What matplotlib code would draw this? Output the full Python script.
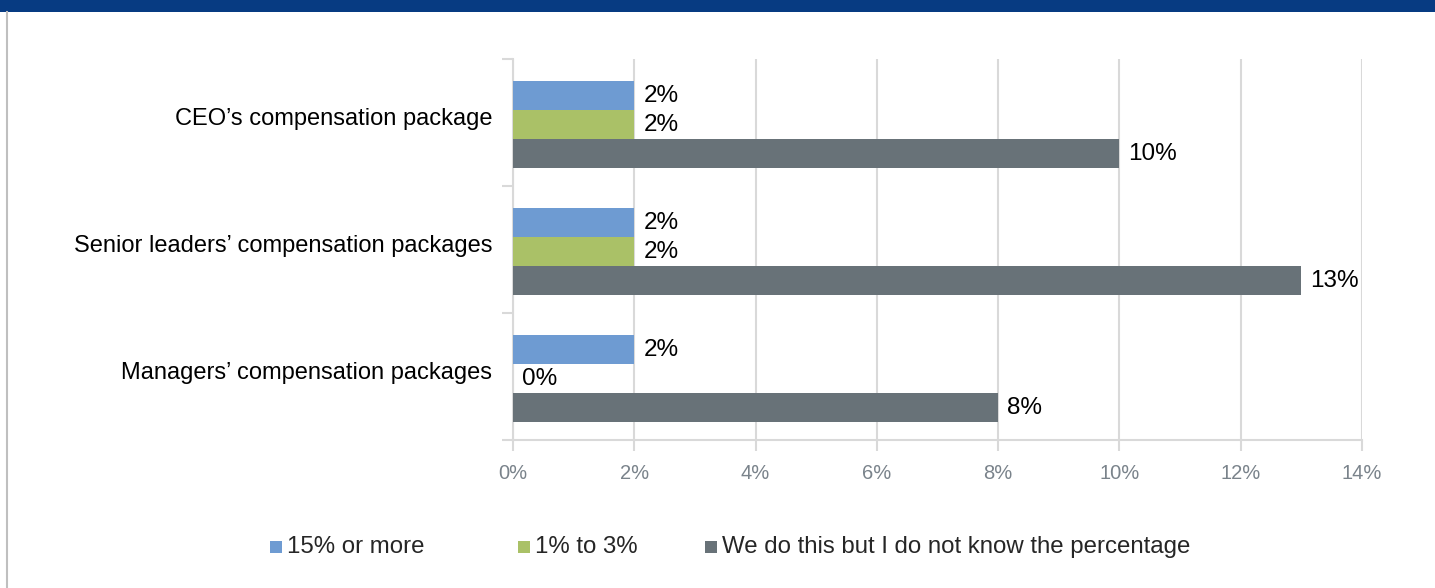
import matplotlib.pyplot as plt
from matplotlib.patches import Rectangle
import numpy as np

plt.rcParams['font.family'] = ['Liberation Sans', 'DejaVu Sans']

# 数据
categories = ["CEO\u2019s compensation package",
              "Senior leaders\u2019 compensation packages",
              "Managers\u2019 compensation packages"]
series_names = ["15% or more", "1% to 3%", "We do this but I do not know the percentage"]
high = [2, 2, 2]
low = [2, 2, 0]
unknown = [10, 13, 8]
colors = ['#6E9BD2', '#AAC167', '#687278']

fig = plt.figure(figsize=(14.35, 5.88), dpi=100)
ax = fig.add_axes([513 / 1435, 1 - 440 / 588, 849 / 1435, 381 / 588])

y = np.arange(len(categories))
h = 0.228
for i, (vals, c) in enumerate(zip([high, low, unknown], colors)):
    pos = y + (i - 1) * h + 0.015
    ax.barh(pos, vals, height=h, color=c, zorder=3)
    for p, v in zip(pos, vals):
        ax.text(v + 0.15, p + 0.005, f"{v}%", va='center', ha='left',
                fontsize=17.5, color='black')

ax.set_xlim(0, 14)
ax.set_ylim(2.5, -0.5)
ax.set_xticks(range(0, 15, 2))
ax.set_xticklabels([f"{t}%" for t in range(0, 15, 2)], fontsize=14.5, color='#7A838B')
ax.set_yticks(y - 0.05)
ax.set_yticklabels(categories, fontsize=17, color='black')
ax.set_yticks([-0.5, 0.5, 1.5, 2.5], minor=True)
ax.tick_params(axis='y', which='major', length=0, pad=15)
ax.tick_params(axis='y', which='minor', length=8, width=1.5, color='#D9D9D9')
ax.tick_params(axis='x', length=8, width=1.5, color='#D9D9D9', pad=9)
ax.grid(axis='x', color='#D9D9D9', linewidth=1.5, zorder=0)
for s in ['top', 'right']:
    ax.spines[s].set_visible(False)
for s in ['left', 'bottom']:
    ax.spines[s].set_color('#D9D9D9')
    ax.spines[s].set_linewidth(1.5)

# 顶部色带和左侧边线
fig.add_artist(Rectangle((0, 1 - 12 / 588), 1, 12 / 588, transform=fig.transFigure,
                         color='#073B82', lw=0))
fig.add_artist(plt.Line2D([7 / 1435, 7 / 1435], [0, 1 - 12 / 588], transform=fig.transFigure,
                          color='#BFBFBF', lw=1.5))

# 图例
legend_x = [270, 518, 705]
for lx, name, c in zip(legend_x, series_names, colors):
    fig.add_artist(Rectangle((lx / 1435, 1 - 553 / 588), 12 / 1435, 12 / 588,
                             transform=fig.transFigure, color=c, lw=0))
    fig.text((lx + 17) / 1435, 1 - 547 / 588, name, va='center', ha='left',
             fontsize=17.3, color='#262626')

fig.savefig('out.png', dpi=100)
